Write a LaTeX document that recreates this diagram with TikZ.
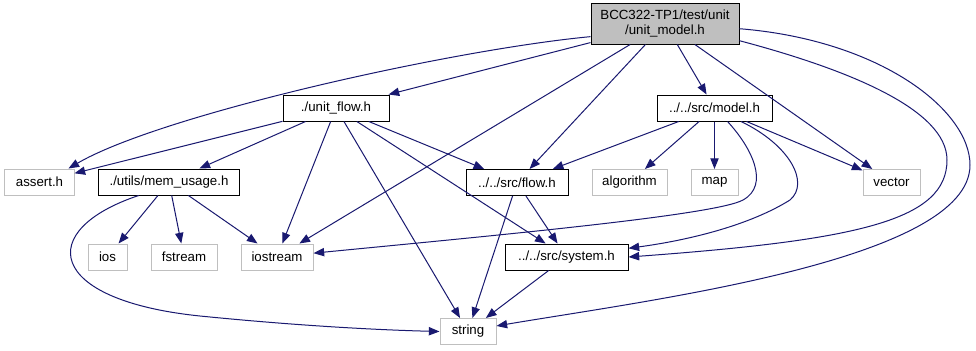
\documentclass[tikz,border=0pt]{standalone}
\usepackage{fontspec}
\setmainfont{Liberation Sans}
\usetikzlibrary{arrows.meta}
\definecolor{edgeblue}{HTML}{191970}
\definecolor{greyline}{HTML}{BFBFBF}

\begin{document}
\begin{tikzpicture}[x=0.75bp,y=-0.75bp,
	every node/.style={font=\fontsize{10}{12}\selectfont, inner sep=0pt, minimum height=19.5bp},
	file/.style={draw=black, line width=0.75bp, fill=white},
	sysfile/.style={draw=greyline, line width=0.75bp, fill=white},
	dep/.style={draw=edgeblue, line width=0.75bp, -{Triangle[length=8bp,width=6.2bp]}}]
	\fill [white] (0,0) rectangle (976,351);
	\useasboundingbox (0,0) rectangle (976,351);
	\node [file, fill=greyline, minimum width=111bp, minimum height=30.75bp, align=center] (root) at (665,23.5) {BCC322-TP1/test/unit\\/unit\_model.h};
	\node [file, minimum width=79.5bp] (uflow) at (336,108) {./unit\_flow.h};
	\node [file, minimum width=86.25bp] (model) at (714.5,108) {../../src/model.h};
	\node [sysfile, minimum width=51.75bp] (assert) at (39.5,182) {assert.h};
	\node [file, minimum width=105.75bp] (memusage) at (169,182) {./utils/mem\_usage.h};
	\node [file, minimum width=76.5bp] (flow) at (517,182.5) {../../src/flow.h};
	\node [sysfile, minimum width=56.25bp] (algorithm) at (629.5,182.5) {algorithm};
	\node [sysfile, minimum width=35.25bp] (map) at (714.5,182.5) {map};
	\node [sysfile, minimum width=42.75bp] (vector) at (891.5,182.5) {vector};
	\node [sysfile, minimum width=29.25bp] (ios) at (107.5,257) {ios};
	\node [sysfile, minimum width=49.5bp] (fstream) at (184,257) {fstream};
	\node [sysfile, minimum width=54bp] (iostream) at (277,257) {iostream};
	\node [file, minimum width=92.25bp] (system) at (566.5,257) {../../src/system.h};
	\node [sysfile, minimum width=42bp] (string) at (468,331.5) {string};
	% unit_model.h
	\draw [dep] (root) -- (uflow);
	\draw [dep] (root) -- (model);
	\draw [dep] (root.190) .. controls (450,50) and (160,115) .. (assert.25);
	\draw [dep] (root) -- (iostream);
	\draw [dep] (root) -- (flow);
	\draw [dep] (root) -- (vector);
	\draw [dep] (root.-13) .. controls (850,70) and (947,110) .. (947,160) .. controls (947,220) and (860,240) .. (system.east);
	\draw [dep] (root.-4) .. controls (880,40) and (970,110) .. (970,165) .. controls (970,260) and (650,300) .. (string.11);
	% unit_flow.h
	\draw [dep] (uflow) -- (assert);
	\draw [dep] (uflow) -- (memusage);
	\draw [dep] (uflow) -- (iostream);
	\draw [dep] (uflow) -- (flow);
	\draw [dep] (uflow) -- (system);
	\draw [dep] (uflow) -- (string);
	% model.h
	\draw [dep] (model) -- (flow);
	\draw [dep] (model) -- (algorithm);
	\draw [dep] (model) -- (map);
	\draw [dep] (model) -- (vector);
	\draw [dep] (model.-46) .. controls (752,148) and (770,185) .. (743,200) .. controls (716,215) and (500,235) .. (iostream.6);
	\draw [dep] (model.-27) .. controls (790,145) and (810,183) .. (790,200) .. controls (750,225) and (690,240) .. (system.8);
	% mem_usage.h
	\draw [dep] (memusage) -- (ios);
	\draw [dep] (memusage) -- (fstream);
	\draw [dep] (memusage) -- (iostream);
	\draw [dep] (memusage.204) .. controls (35,230) and (45,300) .. (200,316) .. controls (300,326) and (380,330) .. (string.west);
	% flow.h, system.h
	\draw [dep] (flow) -- (system);
	\draw [dep] (flow) -- (string);
	\draw [dep] (system) -- (string);
\end{tikzpicture}
\end{document}
